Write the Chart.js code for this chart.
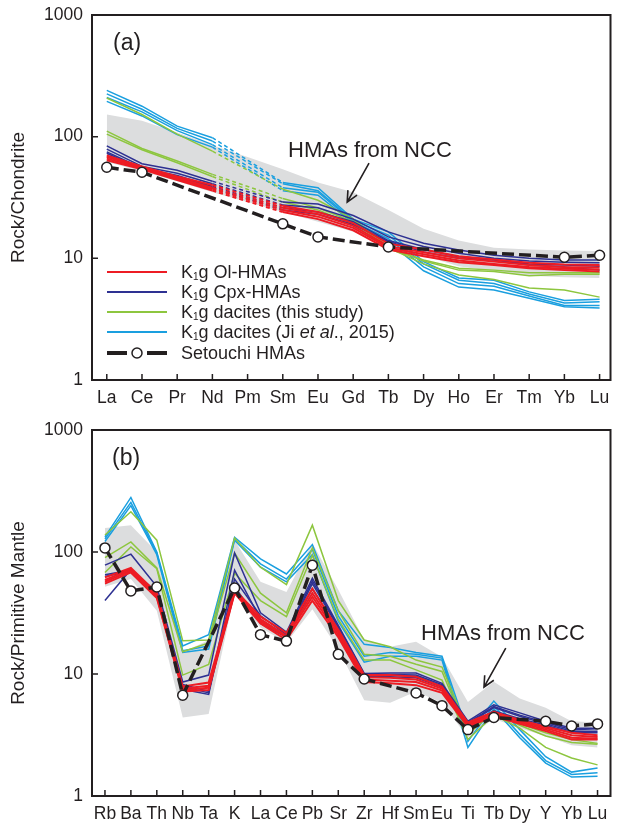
<!DOCTYPE html>
<html lang="en">
<head>
<meta charset="UTF-8"/>
<title>REE and trace element patterns</title>
<script src="https://cdn.jsdelivr.net/npm/chart.js"></script>
<style>
  body { margin: 0; background: #fff; font-family: 'Liberation Sans', Arial, sans-serif; color: #231f20; }
  #wrap { position: relative; width: 617px; height: 826px; overflow: hidden; }
  canvas { position: absolute; left: 0; }
  .txt { position: absolute; white-space: nowrap; }
  .panel { font-size: 23px; line-height: 28px; }
  .note { font-size: 22px; line-height: 26px; }
  .key { position: absolute; left: 107px; width: 60px; height: 12px; }
  .keytxt { position: absolute; left: 181px; font-size: 18px; line-height: 20px; white-space: nowrap; }
  .keytxt sub { font-size: 10px; vertical-align: -2px; }
</style>
</head>
<body>
<div id="wrap">
  <canvas id="ree" width="617" height="410" style="top:0"></canvas>
  <canvas id="spider" width="617" height="416" style="top:410px"></canvas>

  <div class="txt panel" style="left:113px;top:28px">(a)</div>
  <div class="txt panel" style="left:112px;top:443px">(b)</div>
  <div class="txt note" style="left:288px;top:137px">HMAs from NCC</div>
  <div class="txt note" style="left:421px;top:620px">HMAs from NCC</div>

  <svg class="key" style="top:266px"><line x1="0" y1="6" x2="60" y2="6" stroke="#ed1c24" stroke-width="2"/></svg>
  <div class="keytxt" style="top:262px">K<sub>1</sub>g Ol-HMAs</div>
  <svg class="key" style="top:286px"><line x1="0" y1="6" x2="60" y2="6" stroke="#2e3192" stroke-width="2"/></svg>
  <div class="keytxt" style="top:282px">K<sub>1</sub>g Cpx-HMAs</div>
  <svg class="key" style="top:306px"><line x1="0" y1="6" x2="60" y2="6" stroke="#8dc63f" stroke-width="2"/></svg>
  <div class="keytxt" style="top:302px">K<sub>1</sub>g dacites (this study)</div>
  <svg class="key" style="top:326px"><line x1="0" y1="6" x2="60" y2="6" stroke="#1a9fdf" stroke-width="2"/></svg>
  <div class="keytxt" style="top:322px">K<sub>1</sub>g dacites (Ji <i>et al</i>., 2015)</div>
  <svg class="key" style="top:347px">
    <line x1="0" y1="6" x2="20" y2="6" stroke="#231f20" stroke-width="4"/>
    <line x1="40" y1="6" x2="60" y2="6" stroke="#231f20" stroke-width="4"/>
    <circle cx="30" cy="6" r="5" fill="#fff" stroke="#231f20" stroke-width="1.5"/>
  </svg>
  <div class="keytxt" style="top:343px">Setouchi HMAs</div>
</div>

<script>
// ---- panel (a): chondrite-normalised REE ----
const reeLabels = ['La','Ce','Pr','Nd','Pm','Sm','Eu','Gd','Tb','Dy','Ho','Er','Tm','Yb','Lu'];
const reeBandHigh = [152, 135, 108, 85, 68, 54, 42, 35, 25, 17.5, 14, 12.2, 11.8, 11.6, 11.5];
const reeBandLow  = [62, 52, 43, 35, 29, 24, 20, 16.5, 13, 10.5, 8.6, 7.8, 7.2, 7.0, 6.9];
const reeOl = [
  [70, 57, 47, 40, null, 27, 24, 19.5, 13.2, 11.8, 10.4, 9.8, 9.2, 8.9, 8.8],
  [68, 56, 46, 38, null, 26, 23, 18.5, 12.6, 11.2, 10.0, 9.4, 8.8, 8.5, 8.4],
  [66, 55, 45, 37, null, 25, 22, 17.8, 12.2, 10.8, 9.6, 9.0, 8.5, 8.2, 8.1],
  [64, 54, 44, 36, null, 24, 21, 17, 11.8, 10.4, 9.3, 8.8, 8.3, 8.0, 7.8]
];
const reeCpx = [
  [84, 60, 53, 43, null, 29, 28, 22.5, 16.5, 13.3, 11.7, 10.6, 10.0, 9.7, 9.7],
  [79, 57, 50, 41, null, 27.5, 26, 21, 15, 12.5, 11, 10, 9.5, 9.3, 9.2],
  [75, 55, 48, 39, null, 26, 24, 20, 14, 11.8, 10.3, 9.8, 9.0, 8.8, 8.6],
  [73, 54, 47, 38, null, 25, 23, 19, 13.7, 11.3, 10, 9.7, 8.8, 8.5, 8.0]
];
const reeDacite = [
  [208, 152, 105, 76, null, 37, 30, 21, 12.5, 9.5, 8.0, 7.8, 7.2, 7.4, 7.4],
  [111, 80, 63, 49, null, 31, 26, 20, 12.2, 9.0, 7.3, 6.7, 5.7, 5.5, 4.8],
  [105, 78, 61, 47, null, 29, 25, 19, 12.0, 9.7, 8.3, 8.0, 7.6, 7.6, 7.6]
];
const reeJi = [
  [240, 178, 122, 98, null, 42, 38, 21, 16.5, 9.4, 6.9, 6.6, 5.3, 4.5, 4.6],
  [225, 168, 117, 92, null, 41, 36, 20.5, 15.5, 9.0, 6.6, 6.2, 5.1, 4.3, 4.4],
  [210, 160, 112, 86, null, 38, 35, 20, 14.5, 8.5, 6.2, 5.9, 4.9, 4.1, 4.1],
  [195, 148, 104, 82, null, 36, 33, 19.5, 13.7, 7.9, 5.8, 5.5, 4.7, 4.0, 3.9]
];
const reeSetouchi = [56, 51, null, null, null, 19.2, 15, null, 12.4, null, null, null, null, 10.2, 10.6];

// ---- panel (b): primitive-mantle-normalised trace elements ----
const spiderLabels = ['Rb','Ba','Th','Nb','Ta','K','La','Ce','Pb','Sr','Zr','Hf','Sm','Eu','Ti','Tb','Dy','Y','Yb','Lu'];
const spiderBandHigh = [157, 166, 100, 15, 19, 125, 57, 47, 118, 49, 19, 16.7, 18.4, 13.8, 5.9, 8.65, 6.3, 5.3, 4.1, 4.0];
const spiderBandLow  = [52, 60, 33, 4.4, 4.7, 45, 24, 18, 34, 16, 6.1, 5.8, 7.2, 5.8, 3.0, 4.3, 3.6, 3.1, 2.6, 2.5];
const spiderOl = [
  [62, 74, 46, 7.9, 8.5, 49, 29.5, 21.7, 50, 23, 9.8, 9.8, 9.5, 7.9, 4.0, 4.9, 4.2, 3.7, 3.3, 3.15],
  [59, 72, 44, 7.6, 8.0, 47.5, 28, 20.5, 46, 22, 9.4, 9.3, 9.0, 7.6, 3.9, 4.7, 4.1, 3.6, 3.15, 3.05],
  [57, 70, 43, 7.4, 7.7, 46.5, 27, 20, 43, 21, 9.0, 8.8, 8.6, 7.3, 3.8, 4.6, 4.0, 3.5, 3.0, 2.95],
  [55, 68, 42, 7.2, 7.4, 46, 26, 19, 40, 20, 8.6, 8.4, 8.1, 7.0, 3.7, 4.5, 3.9, 3.4, 2.9, 2.9]
];
const spiderCpx = [
  [78, 96, 52, 8.6, 9.8, 98, 31.7, 22, 61, 25, 10.1, 10.2, 10.2, 8.4, 4.1, 5.6, 4.8, 4.1, 3.6, 3.6],
  [65, 71, 47, 7.9, 7.0, 71, 28, 20.5, 55, 24, 9.8, 9.8, 9.6, 8.0, 3.9, 5.3, 4.5, 3.9, 3.4, 3.4],
  [40, 72, 45, 8.2, 7.2, 52, 26, 20, 50, 23, 9.6, 9.5, 9.3, 7.8, 3.8, 5.0, 4.3, 3.8, 3.3, 3.3],
  [63, 70, 44, 7.5, 6.8, 60, 30, 21, 58, 24.5, 10.0, 9.9, 9.8, 8.2, 4.0, 5.4, 4.6, 4.0, 3.5, 3.55]
];
const spiderDacite = [
  [138, 214, 125, 18.7, 19, 130, 75, 54, 166, 40, 19, 16.7, 13, 11.4, 3.5, 5.0, 3.9, 3.3, 2.9, 2.7],
  [90, 121, 74, 15.2, 18, 98, 46, 31.7, 108, 33, 14.5, 14, 12, 10.5, 3.2, 4.9, 3.8, 3.1, 2.75, 2.65],
  [68, 110, 73, 9.8, 12, 67, 40, 29.5, 94, 28, 13, 13, 10.8, 8.9, 2.9, 4.6, 3.6, 2.5, 2.05, 1.8]
];
const spiderJi = [
  [133, 280, 100, 17, 21, 132, 88, 66, 115, 33, 17.5, 16.5, 15, 14, 3.3, 6.0, 3.5, 2.1, 1.57, 1.7],
  [128, 255, 98, 15.5, 17, 128, 80, 60, 105, 30, 14, 15, 14.5, 13.5, 2.8, 5.5, 3.2, 1.95, 1.5, 1.55],
  [122, 240, 95, 15, 16, 125, 75, 57, 95, 27, 12.5, 14, 14, 13, 2.5, 5.2, 3.0, 1.86, 1.43, 1.45]
];
const spiderSetouchi = [108, 48, 51.7, 6.7, null, 50.6, 21, 18.6, 78, 14.5, 9.1, null, 7.0, 5.5, 3.5, 4.4, null, 4.1, 3.75, 3.9];

const yTicks = [1, 10, 100, 1000];

const FONT = "'Liberation Sans', Arial, sans-serif";
const INK = '#231f20';
const RED = '#ed1c24', NAVY = '#2e3192', GREEN = '#8dc63f', CYAN = '#1a9fdf', GREY = '#dcddde';

function pts(arr) {
    return arr.map((v, i) => v == null ? null : { x: i, y: v }).filter(Boolean);
}

// inward tick marks, frame and annotation arrow
const framePlugin = {
    id: 'frame',
    afterDraw(chart, args, opts) {
        const { ctx, chartArea: { left, right, top, bottom }, scales: { x, y } } = chart;
        ctx.save();
        ctx.strokeStyle = INK;
        ctx.lineWidth = 2;
        ctx.strokeRect(left, top, right - left, bottom - top);
        ctx.lineWidth = 1.5;
        ctx.beginPath();
        x.ticks.forEach(t => {
            const px = x.getPixelForValue(t.value);
            ctx.moveTo(px, bottom); ctx.lineTo(px, bottom - 6);
        });
        yTicks.forEach(v => {
            const py = y.getPixelForValue(v);
            ctx.moveTo(left, py); ctx.lineTo(left + 6, py);
        });
        ctx.stroke();

        const a = opts.arrow;
        if (a) {
            const x1 = x.getPixelForValue(a.from[0]), y1 = y.getPixelForValue(a.from[1]);
            const x2 = x.getPixelForValue(a.to[0]), y2 = y.getPixelForValue(a.to[1]);
            const ang = Math.atan2(y2 - y1, x2 - x1), L = 12;
            ctx.lineWidth = 1.6;
            ctx.beginPath();
            ctx.moveTo(x1, y1); ctx.lineTo(x2, y2);
            ctx.moveTo(x2 - L * Math.cos(ang - 0.45), y2 - L * Math.sin(ang - 0.45));
            ctx.lineTo(x2, y2);
            ctx.lineTo(x2 - L * Math.cos(ang + 0.45), y2 - L * Math.sin(ang + 0.45));
            ctx.stroke();
        }
        ctx.restore();
    }
};

function makeDatasets(bandHigh, bandLow, groups, setouchi, gapAt) {
    const ds = [
        { data: pts(bandHigh), fill: '+1', backgroundColor: GREY, borderColor: 'transparent', borderWidth: 0, pointRadius: 0, order: 10 },
        { data: pts(bandLow), fill: false, borderColor: 'transparent', borderWidth: 0, pointRadius: 0, order: 10 }
    ];
    groups.forEach(g => {
        g.rows.forEach(r => ds.push({
            data: pts(r),
            borderColor: g.color,
            borderWidth: g.width,
            pointRadius: 0,
            fill: false,
            order: g.order,
            segment: { borderDash: c => (gapAt != null && c.p0.parsed.x === gapAt) ? [4, 3] : undefined }
        }));
    });
    ds.push({
        data: pts(setouchi),
        borderColor: INK,
        borderWidth: 3.5,
        borderDash: [12, 5],
        pointRadius: 5,
        pointBackgroundColor: '#fff',
        pointBorderColor: INK,
        pointBorderWidth: 1.5,
        fill: false,
        order: 0
    });
    return ds;
}

function makeChart(id, labels, xMin, xMax, datasets, yTitle, padTop, arrow) {
    return new Chart(document.getElementById(id), {
        type: 'line',
        data: { datasets },
        plugins: [framePlugin],
        options: {
            responsive: false,
            animation: false,
            layout: { padding: { left: 0, right: 1, top: padTop, bottom: 0 } },
            plugins: { legend: { display: false }, tooltip: { enabled: false }, frame: { arrow } },
            scales: {
                x: {
                    type: 'linear', min: xMin, max: xMax,
                    afterBuildTicks: s => { s.ticks = labels.map((l, i) => ({ value: i })); },
                    afterFit: s => { s.height = 30; s.paddingLeft = 0; s.paddingRight = 0; },
                    grid: { display: false, drawTicks: false },
                    border: { display: false },
                    ticks: { autoSkip: false, maxRotation: 0, padding: 8, color: INK, font: { family: FONT, size: 17.5 },
                             callback: v => labels[v] ?? '' }
                },
                y: {
                    type: 'logarithmic', min: 1, max: 1000,
                    afterBuildTicks: s => { s.ticks = yTicks.map(v => ({ value: v })); },
                    afterFit: s => { s.width = 92; s.paddingTop = 0; s.paddingBottom = 0; },
                    grid: { display: false, drawTicks: false },
                    border: { display: false },
                    ticks: { padding: 9, color: INK, font: { family: FONT, size: 17.5 }, callback: v => String(v) },
                    title: { display: true, text: yTitle, color: INK, font: { family: FONT, size: 19 }, padding: { top: 7, bottom: 0 } }
                }
            }
        }
    });
}

makeChart('ree', reeLabels, -0.42, 14.31,
    makeDatasets(reeBandHigh, reeBandLow, [
        { rows: reeJi, color: CYAN, width: 1.5, order: 4 },
        { rows: reeDacite, color: GREEN, width: 1.5, order: 3 },
        { rows: reeCpx, color: NAVY, width: 1.5, order: 2 },
        { rows: reeOl, color: RED, width: 2, order: 1 }
    ], reeSetouchi, 3),
    'Rock/Chondrite', 15, { from: [7.45, 60.7], to: [6.83, 29] });

makeChart('spider', spiderLabels, -0.5, 19.5,
    makeDatasets(spiderBandHigh, spiderBandLow, [
        { rows: spiderJi, color: CYAN, width: 1.5, order: 4 },
        { rows: spiderDacite, color: GREEN, width: 1.5, order: 3 },
        { rows: spiderCpx, color: NAVY, width: 1.5, order: 2 },
        { rows: spiderOl, color: RED, width: 2, order: 1 }
    ], spiderSetouchi, null),
    'Rock/Primitive Mantle', 20, { from: [15.46, 16.3], to: [14.62, 7.8] });
</script>
</body>
</html>
